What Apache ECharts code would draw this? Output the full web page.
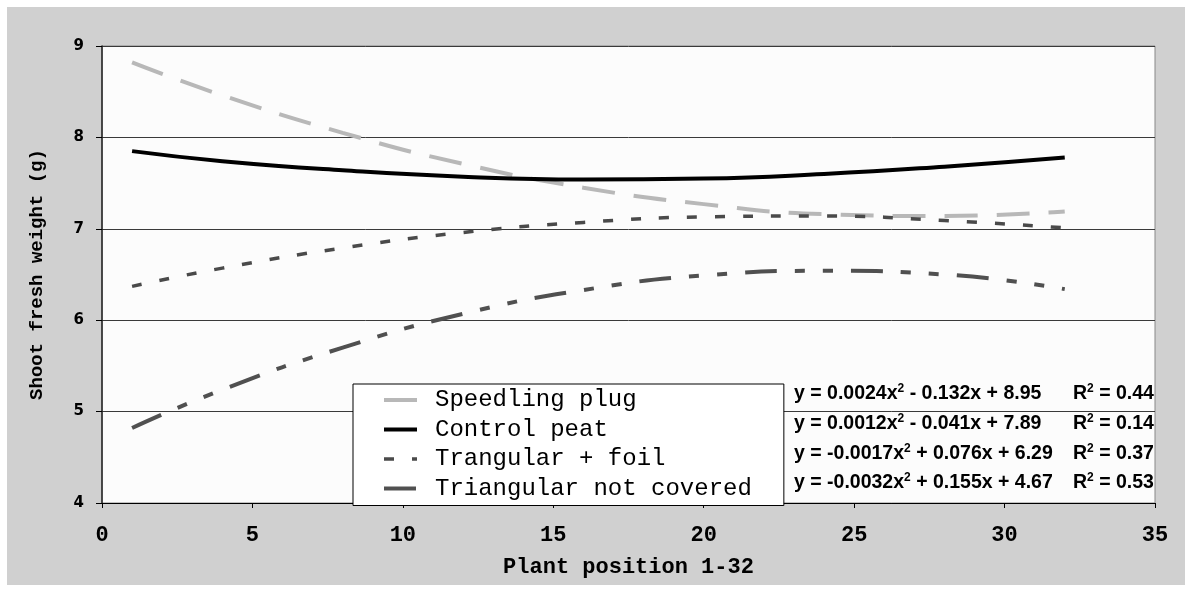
<!DOCTYPE html>
<html>
<head>
<meta charset="utf-8">
<script src="https://cdn.jsdelivr.net/npm/echarts@6/dist/echarts.min.js"></script>
<style>
html,body{margin:0;padding:0;background:#fff;}
#c{width:1192px;height:592px;}
</style>
</head>
<body>
<div id="c"></div>
<script>
// Plant positions where values were read
const positions = [1, 4, 8, 12, 16, 20, 24, 28, 32];
const speedlingPlug = [8.82, 8.46, 8.05, 7.71, 7.45, 7.27, 7.16, 7.14, 7.19];
const controlPeat = [7.85, 7.74, 7.64, 7.57, 7.54, 7.55, 7.60, 7.68, 7.78];
const trangularFoil = [6.37, 6.57, 6.79, 6.96, 7.07, 7.13, 7.14, 7.09, 7.01];
const triangularNotCovered = [4.82, 5.24, 5.70, 6.07, 6.33, 6.49, 6.54, 6.50, 6.34];
const seriesNames = ['Speedling plug', 'Control peat', 'Trangular + foil', 'Triangular not covered'];
const equations = [
  ['0.0024', ' - 0.132x + 8.95', '0.44'],
  ['0.0012', ' - 0.041x + 7.89', '0.14'],
  ['-0.0017', ' + 0.076x + 6.29', '0.37'],
  ['-0.0032', ' + 0.155x + 4.67', '0.53']
];
const xTicks = [0, 35, 5];
const yTicks = [4, 9, 1];

function pairs(vals) { return positions.map((x, i) => [x, vals[i]]); }

const chart = echarts.init(document.getElementById('c'), null, {renderer: 'canvas'});

const rich = {
  a: {fontFamily: 'Liberation Sans', fontWeight: 'bold', fontSize: 19.5, lineHeight: 21, color: '#000'},
  s: {fontFamily: 'Liberation Sans', fontWeight: 'bold', fontSize: 12, lineHeight: 12, verticalAlign: 'top', color: '#000'}
};
const eqY = [383, 413, 443, 472];
const graphics = [
  {type: 'rect', z: -10, shape: {x: 7, y: 7, width: 1178, height: 578}, style: {fill: '#d0d0d0'}}
];
equations.forEach((e, i) => {
  graphics.push({type: 'text', z: 100, left: 794, top: eqY[i],
    style: {text: '{a|y = ' + e[0] + 'x}{s|2}{a|' + e[1] + '}', rich: rich}});
  graphics.push({type: 'text', z: 100, left: 1073, top: eqY[i],
    style: {text: '{a|R}{s|2}{a| = ' + e[2] + '}', rich: rich}});
});

const styles = [
  {color: '#b8b8b8', width: 4, type: [33, 19]},
  {color: '#000000', width: 4, type: 'solid'},
  {color: '#4a4a4a', width: 3.5, type: [10, 18]},
  {color: '#505050', width: 4, type: [32, 18, 10, 18, 10, 18]}
];
const dataSets = [speedlingPlug, controlPeat, trangularFoil, triangularNotCovered];

chart.setOption({
  backgroundColor: '#ffffff',
  animation: false,
  graphic: graphics,
  grid: {left: 102, right: 37, top: 46, bottom: 89, show: true, backgroundColor: '#fcfcfc', borderColor: '#888888', borderWidth: 1, z: 0},
  legend: {
    orient: 'vertical', left: 353, top: 384,
    padding: [4, 32, 5, 29],
    itemWidth: 33, itemHeight: 14, itemGap: 5.5,
    backgroundColor: '#ffffff', borderColor: '#000000', borderWidth: 1, borderRadius: 0,
    selectedMode: false, z: 50,
    itemStyle: {opacity: 0},
    textStyle: {fontFamily: 'Liberation Mono', fontSize: 24, lineHeight: 24, color: '#000', padding: [0, 0, 0, 13]},
    data: seriesNames.map((n, i) => ({
      name: n,
      lineStyle: {width: styles[i].width, color: styles[i].color, type: styles[i].type, opacity: 1}
    }))
  },
  xAxis: {
    type: 'value', min: xTicks[0], max: xTicks[1], interval: xTicks[2],
    name: 'Plant position 1-32', nameLocation: 'middle', nameGap: 53,
    nameTextStyle: {fontFamily: 'Liberation Mono', fontWeight: 'bold', fontSize: 22, color: '#000'},
    axisLine: {lineStyle: {color: '#000', width: 1}},
    axisTick: {show: true, inside: false, length: 5, lineStyle: {color: '#000'}},
    axisLabel: {margin: 21, fontFamily: 'Liberation Mono', fontWeight: 'bold', fontSize: 22, color: '#000'},
    splitLine: {show: false}
  },
  yAxis: {
    type: 'value', min: yTicks[0], max: yTicks[1], interval: yTicks[2],
    name: 'Shoot fresh weight (g)', nameLocation: 'middle', nameGap: 55,
    nameTextStyle: {fontFamily: 'Liberation Mono', fontWeight: 'bold', fontSize: 19, color: '#000'},
    axisLine: {show: true, lineStyle: {color: '#222', width: 1.5}},
    axisTick: {show: true, inside: false, length: 6, lineStyle: {color: '#000'}},
    axisLabel: {margin: 18, fontFamily: 'DejaVu Sans', fontWeight: 'bold', fontSize: 15, color: '#000'},
    splitLine: {show: true, lineStyle: {color: '#3a3a3a', width: 1}}
  },
  series: dataSets.map((d, i) => ({
    name: seriesNames[i], type: 'line', data: pairs(d), smooth: true,
    symbol: 'none', showSymbol: false, z: 10 + i,
    lineStyle: {color: styles[i].color, width: styles[i].width, type: styles[i].type, cap: 'butt'},
    itemStyle: {color: styles[i].color}
  }))
});
</script>
</body>
</html>
